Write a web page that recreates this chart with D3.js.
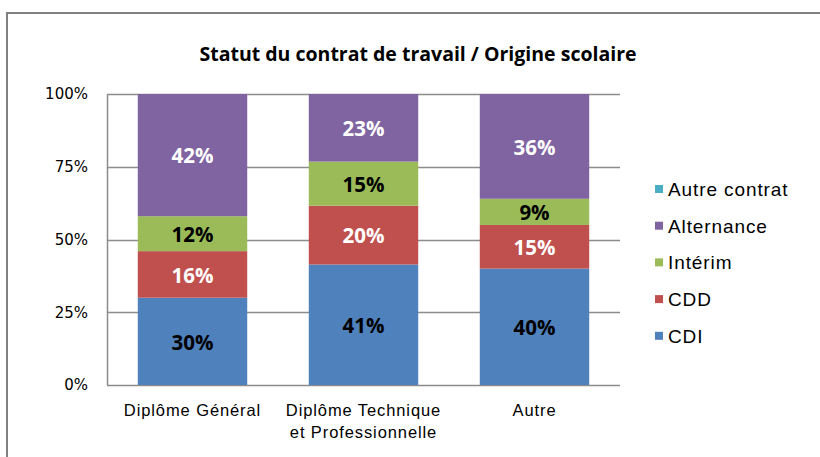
<!DOCTYPE html>
<html>
  <head>
    <meta charset="utf-8">
    <script src="https://d3js.org/d3.v7.min.js"></script>
    <style>
      body { margin: 0; background: #fff; }
      svg { display: block; }
    </style>
  </head>
  <body>
    <div id="chart"></div>
    <script>
      // Data
      const categories = ["Diplôme Général", "Diplôme Technique\net Professionnelle", "Autre"];
      const seriesNames = ["CDI", "CDD", "Intérim", "Alternance", "Autre contrat"];
      const cdi = [30, 41, 40];
      const cdd = [16, 20, 15];
      const interim = [12, 15, 9];
      const alternance = [42, 23, 36];
      const autreContrat = [0, 0, 0];
      const yTicks = [0, 0.25, 0.5, 0.75, 1];

      const colors = ["#4F81BD", "#C0504D", "#9BBB59", "#8064A2", "#4BACC6"];
      const labelColors = ["#000", "#fff", "#000", "#fff", "#000"];

      const W = 820, H = 457;
      const plot = { left: 107, right: 620, top: 94, bottom: 385 };

      const rows = categories.map((c, i) => ({
        cat: c,
        "CDI": cdi[i],
        "CDD": cdd[i],
        "Intérim": interim[i],
        "Alternance": alternance[i],
        "Autre contrat": autreContrat[i]
      }));

      const svg = d3.select("#chart")
        .append("svg")
        .attr("width", W)
        .attr("height", H);

      // Chart frame
      svg.append("rect")
        .attr("x", 7).attr("y", 13)
        .attr("width", W).attr("height", H)
        .attr("fill", "#fff")
        .attr("stroke", "#808080")
        .attr("stroke-width", 2);

      // Title
      svg.append("text")
        .attr("x", 418).attr("y", 61)
        .attr("text-anchor", "middle")
        .style("font-family", "'Open Sans', sans-serif")
        .style("font-weight", "bold")
        .style("font-size", "19.5px")
        .text("Statut du contrat de travail / Origine scolaire");

      const x = d3.scaleBand()
        .domain(categories)
        .range([plot.left, plot.right])
        .paddingInner(0.36)
        .paddingOuter(0.18);

      const y = d3.scaleLinear()
        .domain([0, 1])
        .range([plot.bottom, plot.top]);

      // Gridlines
      svg.append("g")
        .selectAll("line")
        .data(yTicks)
        .join("line")
        .attr("x1", plot.left).attr("x2", plot.right)
        .attr("y1", d => Math.round(y(d)) + 0.5)
        .attr("y2", d => Math.round(y(d)) + 0.5)
        .attr("stroke", "#8c8c8c")
        .attr("stroke-width", 1.5);

      svg.append("line")
        .attr("x1", plot.left + 0.5).attr("x2", plot.left + 0.5)
        .attr("y1", plot.top).attr("y2", plot.bottom)
        .attr("stroke", "#8c8c8c")
        .attr("stroke-width", 1.5);

      // Y axis
      const yAxis = d3.axisLeft(y)
        .tickValues(yTicks)
        .tickFormat(d3.format(".0%"))
        .tickSize(0)
        .tickPadding(19);

      const yG = svg.append("g")
        .attr("transform", `translate(${plot.left}, 0)`)
        .call(yAxis);
      yG.select(".domain").remove();
      yG.selectAll("text")
        .style("font-family", "'DejaVu Sans', sans-serif")
        .style("font-size", "15px")
        .attr("fill", "#000");

      // Stacks
      const stack = d3.stack()
        .keys(seriesNames)
        .offset(d3.stackOffsetExpand);
      const layers = stack(rows);

      const layerG = svg.append("g")
        .selectAll("g")
        .data(layers)
        .join("g")
        .attr("fill", (d, i) => colors[i]);

      layerG.selectAll("rect")
        .data(d => d)
        .join("rect")
        .attr("x", d => x(d.data.cat))
        .attr("width", x.bandwidth())
        .attr("y", d => y(d[1]))
        .attr("height", d => y(d[0]) - y(d[1]));

      // Data labels
      layers.forEach((layer, i) => {
        svg.append("g")
          .selectAll("text")
          .data(layer.filter(d => d.data[layer.key] > 0))
          .join("text")
          .attr("x", d => x(d.data.cat) + x.bandwidth() / 2)
          .attr("y", d => (y(d[0]) + y(d[1])) / 2 + 1)
          .attr("dy", "0.36em")
          .attr("text-anchor", "middle")
          .attr("fill", labelColors[i])
          .style("font-family", "'Open Sans', sans-serif")
          .style("font-weight", "bold")
          .style("font-size", "20.5px")
          .text(d => d.data[layer.key] + "%");
      });

      // X axis labels
      const xLab = svg.append("g")
        .selectAll("text")
        .data(categories)
        .join("text")
        .attr("x", d => x(d) + x.bandwidth() / 2)
        .attr("y", 416)
        .attr("text-anchor", "middle")
        .style("font-family", "'Liberation Sans', sans-serif")
        .style("font-size", "16.5px")
        .style("letter-spacing", "0.9px")
        .attr("fill", "#000");

      xLab.each(function (d) {
        const t = d3.select(this);
        d.split("\n").forEach((line, k) => {
          t.append("tspan")
            .attr("x", x(d) + x.bandwidth() / 2)
            .attr("dy", k === 0 ? 0 : 22)
            .text(line);
        });
      });

      // Legend
      const legendNames = seriesNames.slice().reverse();
      const legend = svg.append("g")
        .selectAll("g")
        .data(legendNames)
        .join("g")
        .attr("transform", (d, i) => `translate(655, ${189 + i * 36.7})`);

      legend.append("rect")
        .attr("x", 0).attr("y", -4)
        .attr("width", 8).attr("height", 8)
        .attr("fill", d => colors[seriesNames.indexOf(d)]);

      legend.append("text")
        .attr("x", 13)
        .attr("dy", "0.36em")
        .style("font-family", "'Liberation Sans', sans-serif")
        .style("font-size", "19px")
        .style("letter-spacing", "0.9px")
        .attr("fill", "#000")
        .text(d => d);
    </script>
  </body>
</html>
